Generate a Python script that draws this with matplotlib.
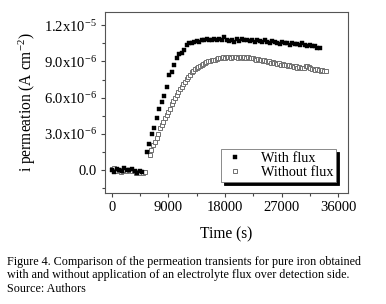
import matplotlib
matplotlib.use("Agg")
import matplotlib.pyplot as plt
from matplotlib.ticker import FixedLocator, MultipleLocator

plt.rcParams['font.family'] = ['Liberation Serif', 'DejaVu Serif']
plt.rcParams['mathtext.fontset'] = 'custom'
plt.rcParams['mathtext.rm'] = 'Liberation Serif'
plt.rcParams['mathtext.it'] = 'Liberation Serif:italic'

# ---- data (time in s, current density in 1e-6 A cm^-2) ----
t_flux = [0, 400, 800, 1200, 1600, 2000, 2400, 2800, 3200, 3600, 4000, 4400, 4800,
          5530, 5940, 6320, 6690, 7120, 7530, 7920, 8280, 8710, 9130, 9510, 9880,
          10310, 10720, 11100, 11520, 11900, 12310, 12700, 13100, 13500, 13900,
          14300, 14700, 15100, 15500, 15900, 16300, 16700, 17100, 17500, 17900,
          18300, 18700, 19100, 19500, 19900, 20300, 20700, 21100, 21500, 21900,
          22300, 22700, 23100, 23500, 23900, 24300, 24700, 25100, 25500, 25900,
          26300, 26700, 27100, 27500, 27900, 28300, 28700, 29100, 29500, 29900,
          30300, 30700, 31100, 31500, 31900, 32300, 32700, 33100]
i_flux = [0.05, -0.15, 0.1, 0.05, -0.05, 0.15, 0.05, 0.0, 0.1, -0.05, -0.2, -0.1, -0.15,
          1.5, 2.2, 3.0, 3.45, 4.3, 5.1, 5.65, 6.1, 6.85, 7.85, 8.15, 8.7,
          9.3, 9.65, 9.7, 9.95, 10.35, 10.5, 10.55, 10.6, 10.7, 10.65,
          10.8, 10.75, 10.85, 10.8, 10.75, 10.85, 10.8, 10.9, 10.8, 11.05,
          10.75, 10.7, 10.8, 10.65, 10.85, 10.7, 10.9, 10.75, 10.8, 10.7,
          10.75, 10.65, 10.8, 10.7, 10.6, 10.75, 10.65, 10.55, 10.7, 10.6,
          10.55, 10.45, 10.6, 10.5, 10.55, 10.4, 10.5, 10.45, 10.45, 10.4,
          10.5, 10.35, 10.3, 10.4, 10.3, 10.25, 10.15, 10.1]

t_noflux = [0, 350, 700, 1050, 1400, 1750, 2100, 2450, 2800, 3150, 3500, 3850, 4200,
            4550, 4900, 5250,
            6050, 6300, 6600, 6850, 7100, 7400, 7650, 7900, 8150, 8450, 8700, 8950,
            9250, 9500, 9750, 10000, 10300, 10550, 10800, 11100, 11350, 11600, 11900,
            12150, 12400, 12700, 12950, 13200, 13500, 13750, 14000, 14300, 14550,
            14800, 15050, 15350, 15600, 15850, 16150, 16400, 16650, 16900, 17200,
            17450, 17700, 17950, 18250, 18500, 18750, 19000, 19300, 19550, 19800,
            20050, 20350, 20600, 20850, 21100, 21400, 21650, 21900, 22150, 22450,
            22700, 22950, 23200, 23500, 23750, 24000, 24250, 24550, 24800, 25050,
            25300, 25600, 25850, 26100, 26350, 26650, 26900, 27150, 27400, 27700,
            27950, 28200, 28450, 28750, 29000, 29250, 29500, 29800, 30050, 30300,
            30550, 30850, 31100, 31350, 31600, 31900, 32150, 32400, 32650, 32950,
            33200, 33450, 33750, 34050]
i_noflux = [0.1, 0.15, -0.05, 0.0, -0.15, -0.05, 0.05, -0.1, 0.0, -0.1, -0.05, -0.2, -0.15,
            -0.25, -0.2, -0.15,
            1.25, 1.7, 2.1, 2.35, 2.7, 3.0, 3.45, 3.7, 3.95, 4.3, 4.55, 4.85,
            5.1, 5.5, 5.75, 5.95, 6.2, 6.5, 6.7, 6.9, 7.1, 7.3, 7.55,
            7.75, 7.9, 8.1, 8.2, 8.35, 8.5, 8.55, 8.6, 8.7, 8.8,
            8.85, 8.95, 9.0, 9.05, 9.1, 9.15, 9.1, 9.2, 9.25, 9.3,
            9.25, 9.35, 9.3, 9.4, 9.35, 9.4, 9.3, 9.35, 9.4, 9.35,
            9.3, 9.4, 9.35, 9.3, 9.35, 9.3, 9.35, 9.3, 9.25, 9.3,
            9.2, 9.15, 9.2, 9.1, 9.15, 9.05, 9.1, 9.0, 8.95, 9.05,
            8.9, 8.95, 8.85, 8.9, 8.8, 8.85, 8.75, 8.8, 8.7, 8.75,
            8.65, 8.7, 8.6, 8.65, 8.55, 8.6, 8.5, 8.55, 8.5, 8.45,
            8.5, 8.6, 8.65, 8.55, 8.45, 8.4, 8.35, 8.3, 8.35, 8.3,
            8.25, 8.3, 8.2, 8.25]

x_ticks = [0, 9000, 18000, 27000, 36000]
x_ticklabels = ['0', '9000', '18000', '27000', '36000']
y_ticks = [0.0, 3.0e-6, 6.0e-6, 9.0e-6, 1.2e-5]
y_ticklabels = ['0.0', r'$\mathregular{3.0x10^{-6}}$', r'$\mathregular{6.0x10^{-6}}$',
                r'$\mathregular{9.0x10^{-6}}$', r'$\mathregular{1.2x10^{-5}}$']

fig = plt.figure(figsize=(3.86, 3.04), dpi=100)
ax = fig.add_axes([0.272, 0.365, 0.630, 0.5955])

ax.plot(t_noflux, [v * 1e-6 for v in i_noflux], linestyle='none', marker='s',
        markersize=3.1, markerfacecolor='white', markeredgecolor='#707070',
        markeredgewidth=0.7, label='Without flux')
ax.plot(t_flux, [v * 1e-6 for v in i_flux], linestyle='none', marker='s',
        markersize=3.0, markerfacecolor='black', markeredgecolor='black',
        markeredgewidth=0.3, label='With flux')

ax.set_xlim(-1100, 37600)
ax.set_ylim(-1.9e-6, 1.31e-5)
ax.xaxis.set_major_locator(FixedLocator(x_ticks))
ax.set_xticklabels(x_ticklabels)
ax.xaxis.set_minor_locator(MultipleLocator(4500))
ax.yaxis.set_major_locator(FixedLocator(y_ticks))
ax.set_yticklabels(y_ticklabels)
ax.yaxis.set_minor_locator(MultipleLocator(1.5e-6))
ax.tick_params(which='both', direction='out', top=False, right=False,
               labelsize=10.5, color='#444444', width=0.8)
ax.tick_params(which='major', length=3, pad=3)
ax.tick_params(which='minor', length=2)
for s in ax.spines.values():
    s.set_color('#555555')
    s.set_linewidth(0.8)

ax.set_xlabel('Time (s)', fontsize=11.2, labelpad=9)
ax.set_ylabel(r'i permeation (A cm$\mathregular{^{-2}}$)', fontsize=11.2, labelpad=4)

h, l = ax.get_legend_handles_labels()
leg = ax.legend([h[1], h[0]], [l[1], l[0]], loc='lower right',
                bbox_to_anchor=(0.951, 0.061), borderaxespad=0, fontsize=10.3,
                frameon=True, fancybox=False, edgecolor='#777777',
                shadow={'color': 'black', 'alpha': 1.0},
                handletextpad=1.0, handlelength=1.6, borderpad=0.2,
                labelspacing=0.1, markerscale=1.0)
leg.get_frame().set_linewidth(0.6)

cap = ("Figure 4. Comparison of the permeation transients for pure iron obtained\n"
       "with and without application of an electrolyte flux over detection side.\n"
       "Source: Authors")
fig.text(7 / 386, 1 - 256 / 304, cap, fontsize=8.7, va='top', ha='left',
         linespacing=1.15)

fig.savefig('out.png', dpi=100)
